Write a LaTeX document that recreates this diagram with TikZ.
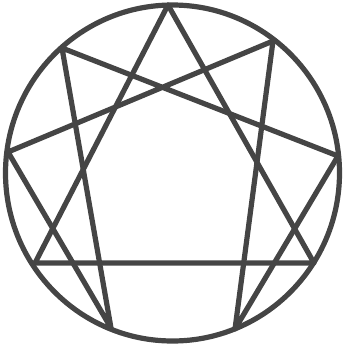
\documentclass[tikz,border=0pt]{standalone}
\definecolor{ink}{HTML}{454545}
\begin{document}
\begin{tikzpicture}[x=1pt,y=-1pt,line join=round,line cap=round,
  stroke/.style={draw=ink,line width=5.2pt}]
\useasboundingbox (0,0) rectangle (345,349);
\coordinate (c) at (172.5,173);
\coordinate (p9) at (168,5);
\coordinate (p1) at (273,41);
\coordinate (p2) at (338,156);
\coordinate (p3) at (314,263);
\coordinate (p4) at (235,329);
\coordinate (p5) at (111,328);
\coordinate (p6) at (35,263);
\coordinate (p7) at (8,152);
\coordinate (p8) at (62,48);
\draw[stroke] (c) ellipse [x radius=167, y radius=168];
\draw[stroke] (p9) -- (p3) -- (p6) -- cycle;
\draw[stroke] (p1) -- (p4) -- (p2) -- (p8) -- (p5) -- (p7) -- cycle;
\end{tikzpicture}
\end{document}
